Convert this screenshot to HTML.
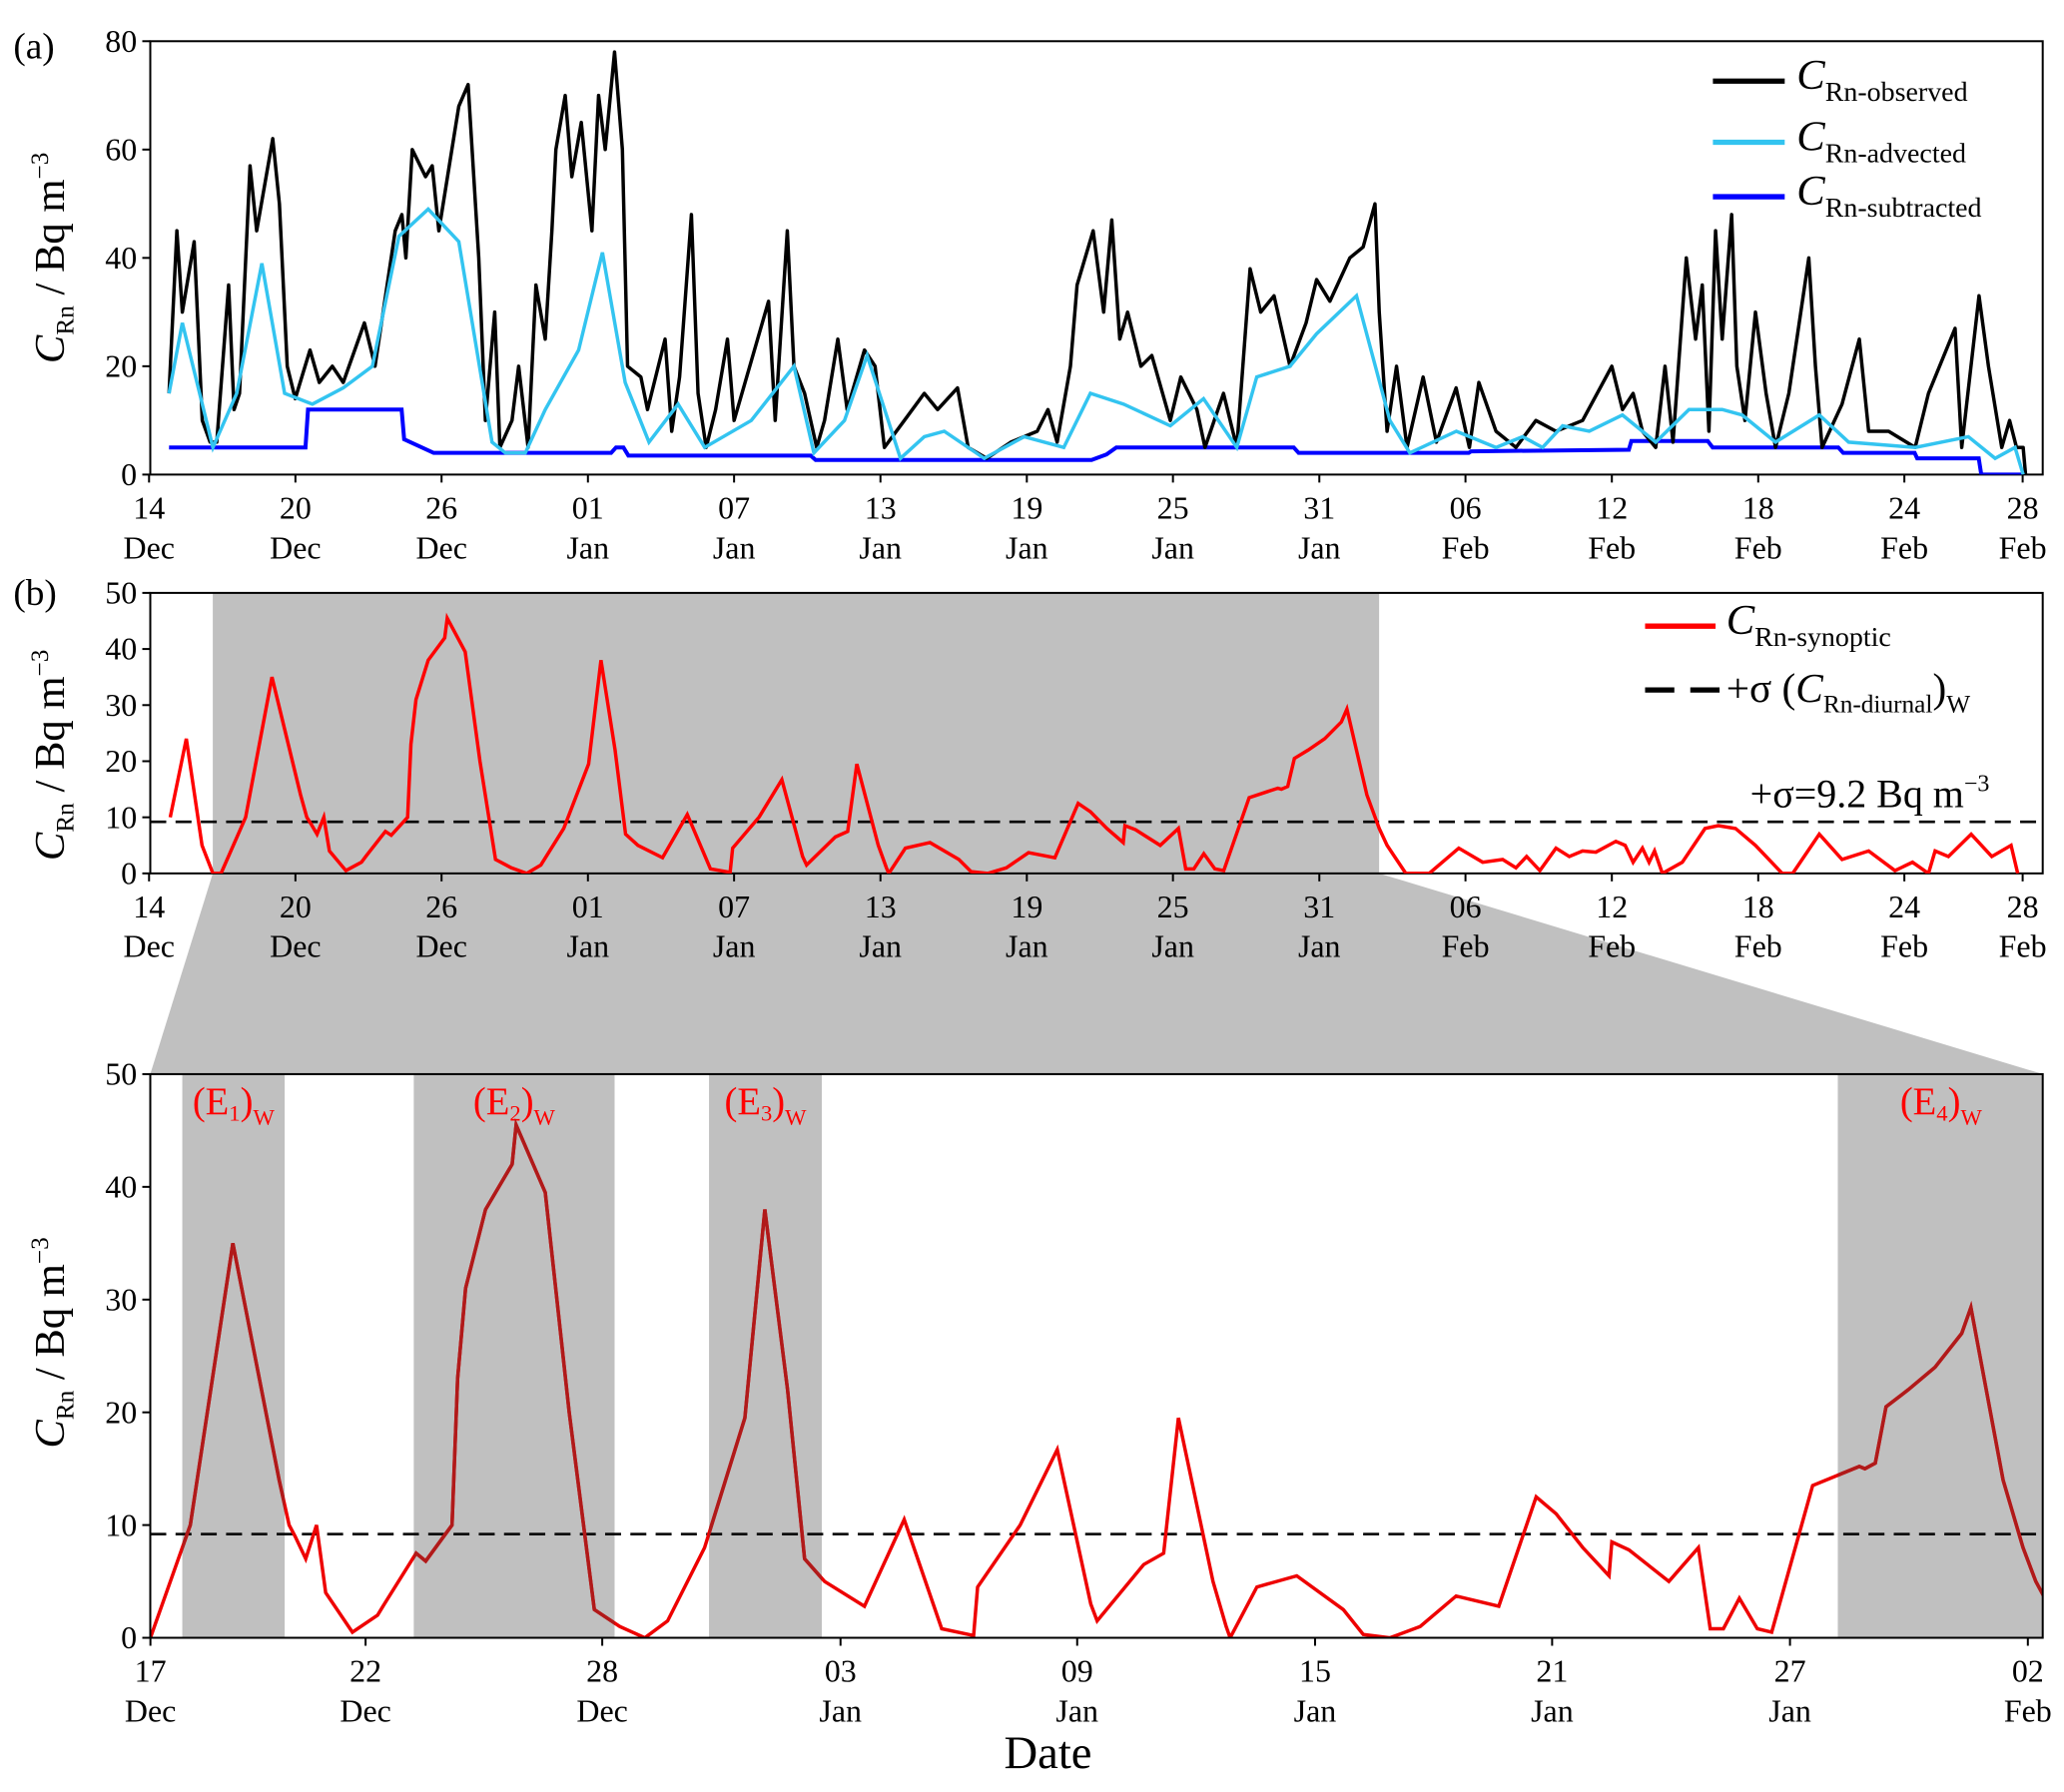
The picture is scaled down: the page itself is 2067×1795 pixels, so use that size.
<!DOCTYPE html>
<html><head><meta charset="utf-8">
<style>
html,body{margin:0;padding:0;background:#fff;}
svg{display:block;font-family:"Liberation Serif",serif;}
</style></head>
<body>
<svg id="fig" width="2067" height="1795" viewBox="0 0 1552 1348" preserveAspectRatio="none" xmlns="http://www.w3.org/2000/svg"></svg>
<script>
// ---- data (days since 14 Dec, values in Bq m-3) ----
const obsDays=[0.76,1.08,1.30,1.78,2.11,2.43,2.70,3.18,3.40,3.62,4.05,4.32,4.97,5.24,5.56,5.88,6.48,6.86,7.39,7.83,8.69,9.12,9.94,10.21,10.37,10.63,11.17,11.44,11.71,12.52,12.90,13.33,13.60,13.98,14.19,14.68,14.95,15.33,15.65,16.03,16.30,16.46,16.84,17.11,17.49,17.92,18.19,18.46,18.84,19.16,19.37,19.91,20.18,20.89,21.16,21.48,21.96,22.23,22.56,22.94,23.42,23.69,25.09,25.36,25.85,26.12,26.55,27.04,27.36,27.90,28.28,28.98,29.41,29.79,30.60,31.41,31.95,32.76,33.19,33.94,34.92,35.99,36.43,36.80,37.34,37.61,38.26,38.69,39.02,39.34,39.66,40.20,40.64,41.39,41.82,42.47,42.80,43.55,44.09,44.63,45.06,45.60,46.25,46.90,47.33,47.87,48.68,49.22,49.70,49.87,50.19,50.57,51.00,51.65,52.19,52.99,53.53,53.91,54.61,55.42,56.23,57.04,58.12,59.31,59.74,60.17,60.55,61.09,61.47,61.79,62.33,62.71,62.98,63.25,63.52,63.79,64.17,64.38,64.71,65.14,65.57,65.95,66.49,67.30,67.57,67.84,68.65,69.35,69.73,70.54,71.62,72.16,73.24,73.51,74.21,74.59,75.13,75.45,75.73,76.00,76.10];
const obsVals=[15,45,30,43,10,6,6,35,12,15,57,45,62,50,20,14,23,17,20,17,28,20,45,48,40,60,55,57,45,68,72,40,10,30,5,10,20,5,35,25,45,60,70,55,65,45,70,60,78,60,20,18,12,25,8,18,48,15,5,12,25,10,32,10,45,20,15,5,10,25,12,23,20,5,10,15,12,16,5,3,6,8,12,6,20,35,45,30,47,25,30,20,22,10,18,12,5,15,5,38,30,33,20,28,36,32,40,42,50,30,8,20,5,18,6,16,5,17,8,5,10,8,10,20,12,15,8,5,20,6,40,25,35,8,45,25,48,20,10,30,15,5,15,40,20,5,13,25,8,8,5,15,27,5,33,20,5,10,5,5,0];
const advDays=[0.76,1.30,2.54,3.51,4.53,5.45,6.58,7.83,9.01,10.09,11.28,12.52,13.87,14.41,15.22,16.03,17.38,18.35,19.27,20.24,21.42,22.50,24.39,26.12,26.93,28.17,29.09,30.44,31.41,32.22,33.84,35.46,37.07,38.15,39.50,41.39,42.74,44.09,44.90,46.25,47.33,48.95,50.30,51.11,53.00,54.61,55.69,56.50,57.31,58.39,59.74,61.09,62.44,63.79,64.60,65.95,67.73,68.92,71.62,73.78,74.86,75.67,76.00];
const advVals=[15,28,5,15,39,15,13,16,20,44,49,43,6,4,4,12,23,41,17,6,13,5,10,20,4,10,22,3,7,8,3,7,5,15,13,9,14,5,18,20,26,33,10,4,8,5,7,5,9,8,11,6,12,12,11,6,11,6,5,7,3,5,0];
const subDays=[0.76,6.3,6.4,10.2,10.3,11.5,18.7,18.9,19.2,19.4,26.8,27.0,38.2,38.8,39.2,46.4,46.6,53.5,53.6,60.0,60.1,63.2,63.4,68.5,68.7,71.6,71.7,74.2,74.3,76.0];
const subVals=[5,5,12,12,6.5,4,4,5,5,3.5,3.5,2.7,2.7,3.7,5,5,4,4,4.3,4.6,6.2,6.2,5,5,4,4,3,3,0,0];
const synDays=[0.81,1.46,2.10,2.54,2.87,3.87,4.94,6.10,6.35,6.50,6.77,7.04,7.27,7.94,8.57,8.74,9.54,9.78,10.44,10.58,10.78,11.28,11.95,12.05,12.78,13.38,14.01,14.65,15.28,15.85,16.78,17.79,18.29,18.86,19.29,19.79,20.79,21.79,22.73,23.53,23.63,24.70,25.63,26.47,26.63,27.80,28.30,28.67,29.54,29.87,29.97,30.64,31.64,32.81,33.31,33.98,34.74,35.64,36.71,37.65,38.15,38.82,39.48,39.55,39.98,40.98,41.72,42.02,42.35,42.75,43.20,43.56,44.59,45.76,45.90,46.16,46.43,46.99,47.66,48.33,48.56,49.37,49.87,50.19,50.95,51.90,53.10,54.07,54.88,55.42,55.85,56.39,57.04,57.58,58.12,58.66,59.47,59.85,60.17,60.55,60.82,61.04,61.36,62.17,63.09,63.63,64.33,65.14,66.22,66.65,67.73,68.65,69.73,70.80,71.51,72.16,72.43,72.97,73.89,74.73,75.51,75.78];
const synVals=[10,24,5,0,0,10,35,14,10,9,7,10,4,0.5,2,3,7.5,6.8,10,23,31,38,42,45.5,39.5,20,2.5,1,0,1.5,8,19.5,38,22,7,5,2.8,10.5,0.8,0.2,4.5,10,16.7,3,1.5,6.5,7.5,19.5,5,1,0,4.5,5.5,2.5,0.3,0,1,3.7,2.8,12.5,11,8,5.5,8.5,7.8,5,8,0.8,0.8,3.5,0.8,0.5,13.5,15.2,15,15.5,20.5,22,24,27,29.3,14,8,5,0,0,4.5,2,2.5,1,3,0.5,4.5,3,4,3.8,5.7,5,2,4.5,2,4,0,2,8,8.5,8,5,0,0,7,2.5,4,0.5,2,0,4,3,7,3,5,0];
const sigma=9.2;
const events=[[3.67,6.24],[9.48,14.52],[16.89,19.72],[45.22,50.5]];
const eventLabels=["1","2","3","4"];
const ticksAB=["14|Dec","20|Dec","26|Dec","01|Jan","07|Jan","13|Jan","19|Jan","25|Jan","31|Jan","06|Feb","12|Feb","18|Feb","24|Feb","28|Feb"];
const tickDaysAB=[-0.05,5.89,11.82,17.76,23.69,29.63,35.57,41.50,47.44,53.37,59.31,65.25,71.18,75.98];
const ticksC=["17|Dec","22|Dec","28|Dec","03|Jan","09|Jan","15|Jan","21|Jan","27|Jan","02|Feb"];
const tickDaysC=[2.87,8.27,14.21,20.19,26.13,32.10,38.05,44.02,49.99];
const yTicksA=[0,20,40,60,80];
const yTicksBC=[0,10,20,30,40,50];

const NS="http://www.w3.org/2000/svg";
const svg=document.getElementById('fig');
function el(tag,attrs,parent){const e=document.createElementNS(NS,tag);for(const k in attrs)e.setAttribute(k,attrs[k]);(parent||svg).appendChild(e);return e;}
const L=113,R=1536;
const xAB=d=>113+d*18.53;
const xC=d=>117+(d-3)*29.96;
const pA={y0:357,k:4.075}, pB={y0:657,k:4.22}, pC={y0:1232,k:8.48};
const yA=v=>pA.y0-v*pA.k, yB=v=>pB.y0-v*pB.k, yC=v=>pC.y0-v*pC.k;

function pathFrom(days,vals,fx,fy){let s="";for(let i=0;i<days.length;i++){s+=(i?"L":"M")+fx(days[i]).toFixed(1)+","+fy(vals[i]).toFixed(1);}return s;}

const defs=el('defs',{});
[['clipA',31,357],['clipB',446,657],['clipC',808,1232]].forEach(([id,t,b])=>{const c=el('clipPath',{id:id},defs);el('rect',{x:L,y:t,width:R-L,height:b-t},c);});

const trap=el('polygon',{points:`160,657 1037,657 ${R},808 ${L},808`,fill:'#c0c0c0'});


const spanB=el('rect',{x:160,y:446,width:877,height:211,fill:'#c0c0c0'});



function axes(top,bot,name){const r=el('rect',{x:L,y:top,width:R-L,height:bot-top,fill:'none',stroke:'#000','stroke-width':1.5});}
function yAxis(ticks,fy,name){const g=el('g',{});ticks.forEach(t=>{el('line',{x1:L-6,x2:L,y1:fy(t),y2:fy(t),stroke:'#000','stroke-width':1.5},g);const tx=el('text',{x:L-10,y:fy(t)+8,'font-size':24,'text-anchor':'end'},g);tx.textContent=t;});}
function xAxis(days,labels,fx,y0,name){const g=el('g',{});days.forEach((d,i)=>{const x=fx(d);el('line',{x1:x,x2:x,y1:y0,y2:y0+6,stroke:'#000','stroke-width':1.5},g);const [a,b]=labels[i].split('|');const t1=el('text',{x:x,y:y0+33,'font-size':24,'text-anchor':'middle'},g);t1.textContent=a;const t2=el('text',{x:x,y:y0+63,'font-size':24,'text-anchor':'middle'},g);t2.textContent=b;});}
function yLabel(cy,name){const t=el('text',{transform:`translate(48,${cy}) rotate(-90)`,'font-size':32,'text-anchor':'middle'});t.innerHTML='<tspan font-style="italic">C</tspan><tspan font-size="19" dy="7">Rn</tspan><tspan dy="-7"> / Bq m</tspan><tspan font-size="19" dy="-12">−3</tspan>';}

// ---- Panel A ----
axes(31,357,'panel-a-axes');
const gA=el('g',{'clip-path':'url(#clipA)'});
const sub=el('path',{d:pathFrom(subDays,subVals,xAB,yA),fill:'none',stroke:'#0000ff','stroke-width':3},gA);

const obs=el('path',{d:pathFrom(obsDays,obsVals,xAB,yA),fill:'none',stroke:'#000','stroke-width':2.6,'stroke-linejoin':'round'},gA);

const adv=el('path',{d:pathFrom(advDays,advVals,xAB,yA),fill:'none',stroke:'#33c4f0','stroke-width':2.6},gA);

yAxis(yTicksA,yA,'y-axis-a');
xAxis(tickDaysAB,ticksAB,xAB,357,'x-axis-a');
yLabel(194,'y-axis-title-a');
const la=el('text',{x:10,y:44,'font-size':28});la.textContent='(a)';
[['Rn-observed','#000',61],['Rn-advected','#33c4f0',107],['Rn-subtracted','#0000ff',148]].forEach(([s,c,y])=>{const g=el('g',{});el('line',{x1:1288,x2:1342,y1:y,y2:y,stroke:c,'stroke-width':4},g);const t=el('text',{x:1351,y:y+6,'font-size':32},g);t.innerHTML=`<tspan font-style="italic">C</tspan><tspan font-size="21" dy="9">${s}</tspan>`;});

// ---- Panel B ----
axes(446,657,'panel-b-axes');
const gB=el('g',{'clip-path':'url(#clipB)'});
const sdB=el('line',{x1:L,x2:R,y1:yB(sigma),y2:yB(sigma),stroke:'#000','stroke-width':2,'stroke-dasharray':'12,7'},gB);

const synB=el('path',{d:pathFrom(synDays,synVals,xAB,yB),fill:'none',stroke:'#ff0000','stroke-width':2.6},gB);

yAxis(yTicksBC,yB,'y-axis-b');
xAxis(tickDaysAB,ticksAB,xAB,657,'x-axis-b');
yLabel(568,'y-axis-title-b');
const lb=el('text',{x:10,y:455,'font-size':28});lb.textContent='(b)';
{const g=el('g',{});el('line',{x1:1237,x2:1290,y1:471,y2:471,stroke:'#ff0000','stroke-width':4},g);const t=el('text',{x:1298,y:477,'font-size':32},g);t.innerHTML='<tspan font-style="italic">C</tspan><tspan font-size="21" dy="9">Rn-synoptic</tspan>';}
{const g=el('g',{});el('line',{x1:1237,x2:1293,y1:519,y2:519,stroke:'#000','stroke-width':4,'stroke-dasharray':'22,12'},g);const t=el('text',{x:1298,y:528,'font-size':31},g);t.innerHTML='+σ (<tspan font-style="italic">C</tspan><tspan font-size="19" dy="8">Rn-diurnal</tspan><tspan dy="-8">)</tspan><tspan font-size="19" dy="8">W</tspan>';}
{const t=el('text',{x:1316,y:607,'font-size':30});t.innerHTML='+σ=9.2 Bq m<tspan font-size="18" dy="-12">−3</tspan>';}

// ---- Panel C ----
const gCs=el('g',{'clip-path':'url(#clipC)'});
events.forEach((e,i)=>{const r=el('rect',{x:xC(e[0]),y:808,width:xC(e[1])-xC(e[0]),height:424,fill:'#c0c0c0'},gCs);
const t=el('text',{x:(xC(e[0])+xC(Math.min(e[1],50.4)))/2,y:838,'font-size':29,fill:'#ff0000','text-anchor':'middle'});t.innerHTML=`(E<tspan font-size="17" dy="5">${eventLabels[i]}</tspan><tspan dy="-5">)</tspan><tspan font-size="17" dy="8">W</tspan>`;});
const gC=el('g',{'clip-path':'url(#clipC)'});
const sdC=el('line',{x1:L,x2:R,y1:yC(sigma),y2:yC(sigma),stroke:'#000','stroke-width':2,'stroke-dasharray':'12,7'},gC);

const synC=el('path',{d:pathFrom(synDays,synVals,xC,yC),fill:'none',stroke:'#ee0000','stroke-width':2.6},gC);

events.forEach((e,i)=>{const cp=el('clipPath',{id:'ce'+i},defs);el('rect',{x:xC(e[0]),y:808,width:xC(e[1])-xC(e[0]),height:424},cp);
const g2=el('g',{'clip-path':'url(#ce'+i+')'},gC);el('path',{d:pathFrom(synDays,synVals,xC,yC),fill:'none',stroke:'#b01a1a','stroke-width':2.6},g2);});
axes(808,1232,'panel-c-axes');
yAxis(yTicksBC,yC,'y-axis-c');
xAxis(tickDaysC,ticksC,xC,1232,'x-axis-c');
yLabel(1010,'y-axis-title-c');
{const t=el('text',{x:788,y:1330,'font-size':35,'text-anchor':'middle'});t.textContent='Date';}
</script>
</body></html>
